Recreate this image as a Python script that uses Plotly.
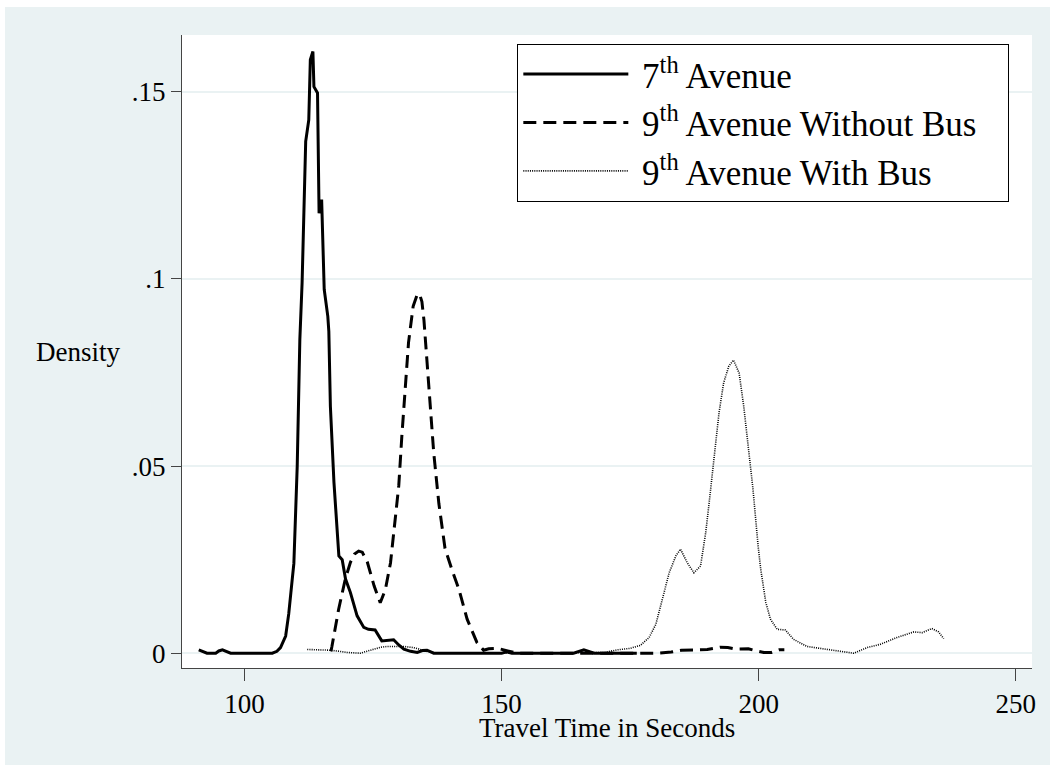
import plotly.graph_objects as go

# ---- data ----
ave7_x = [91.1, 92.0, 92.7, 94.4, 95.0, 95.7, 96.4, 97.3, 100, 103, 105.4, 106.3, 107.0, 108.0,
          108.6, 109.3, 109.6, 110.25, 110.76, 111.2, 111.9, 112.5, 112.8, 113.3, 113.5, 114.2,
          114.5, 115.0, 115.5, 116.2, 116.4, 116.7, 117.4, 118.35, 119.0, 119.65, 120.6, 121.9,
          123.2, 124.1, 125.4, 126.7, 127.8, 129.0, 130.0, 131.0, 132.3, 133.6, 134.6, 135.5,
          136.8, 140, 145, 150, 151, 152, 160, 164, 166, 168, 176.3]
ave7_y = [0.0009, 0.0003, 0.0, 0.0, 0.0006, 0.0009, 0.0005, 0.0, 0.0, 0.0, 0.0, 0.0005, 0.0015, 0.0046,
          0.0105, 0.0200, 0.0240, 0.0500, 0.0838, 0.0990, 0.1368, 0.1425, 0.1586, 0.1608, 0.1514, 0.1497,
          0.1176, 0.1212, 0.0972, 0.0900, 0.0860, 0.0660, 0.0456, 0.0260, 0.0250, 0.0198, 0.0162, 0.0100,
          0.0069, 0.0064, 0.0062, 0.0033, 0.0035, 0.0036, 0.0022, 0.0011, 0.0005, 0.0002, 0.0007, 0.0008,
          0.0, 0.0, 0.0, 0.0, 0.0004, 0.0, 0.0, 0.0, 0.0009, 0.0, 0.0]

nobus_x = [116.8, 117.0, 118.3, 119.6, 120.6, 121.4, 122.2, 122.9, 123.9, 125.2, 126.4, 127.4, 128.4,
           129.2, 130.0, 130.6, 131.3, 131.9, 132.8, 133.5, 134.0, 134.5, 134.9, 135.9, 136.8, 137.8,
           139.0, 140.3, 141.7, 143.3, 145.2, 146.5, 147.5, 149.2, 151.3, 153, 165, 176, 178, 180.5,
           183, 185, 188, 190, 192.5, 194, 195.5, 198, 199.6, 201, 202.5, 204, 205]
nobus_y = [0.0005, 0.0018, 0.0117, 0.0198, 0.0243, 0.0265, 0.0273, 0.0270, 0.0243, 0.0180, 0.0135, 0.0170, 0.0242,
           0.0350, 0.0447, 0.0580, 0.0714, 0.0830, 0.0927, 0.0955, 0.0961, 0.0940, 0.0890, 0.0714, 0.0536, 0.0400,
           0.0280, 0.0225, 0.0171, 0.0091, 0.0029, 0.0008, 0.0012, 0.0013, 0.0005, 0.0, 0.0, 0.0, 0.0, 0.0,
           0.0003, 0.0008, 0.0009, 0.0010, 0.0016, 0.0015, 0.0011, 0.0012, 0.0006, 0.0002, 0.0002, 0.0009, 0.0009]

bus_x = [112.2, 114, 116.7, 118.5, 120, 122.5, 124, 125.1, 126.5, 127.7, 129.5, 131, 132.9, 134.5, 135.5,
         137, 140, 150, 160, 170, 172.5, 175, 177, 178.7, 180, 180.9, 181.9, 182.6, 183.9, 184.8, 186.1,
         187.4, 188.7, 189.7, 190.3, 191.0, 191.6, 192.3, 193.2, 194.2, 195.1, 196.2, 197.1, 197.9, 198.4,
         198.9, 199.4, 199.9, 200.4, 200.7, 201.4, 202.3, 203.6, 205.2, 206.8, 209.4, 212.7, 215.9, 218.5,
         221.1, 223.7, 226.9, 230.2, 231.8, 233.7, 235.0, 236.0]
bus_y = [0.0010, 0.0009, 0.0008, 0.0005, 0.0002, 0.0, 0.0006, 0.0012, 0.0016, 0.0018, 0.0019, 0.0018, 0.0015, 0.0008, 0.0005,
         0.0001, 0.0, 0.0, 0.0, 0.0002, 0.0009, 0.0013, 0.0021, 0.0042, 0.0077, 0.0126, 0.0180, 0.0215, 0.0260, 0.0278, 0.0242,
         0.0215, 0.0233, 0.0322, 0.0393, 0.0482, 0.0571, 0.0643, 0.0723, 0.0767, 0.0783, 0.0749, 0.0660, 0.0571, 0.0500,
         0.0438, 0.0349, 0.0286, 0.0225, 0.0198, 0.0135, 0.0091, 0.0064, 0.0062, 0.0037, 0.0018, 0.0012, 0.0006, 0.0,
         0.0015, 0.0024, 0.0042, 0.0057, 0.0055, 0.0066, 0.0057, 0.0039]

NB = "\u00a0"
series_names = [NB + "7<sup>th</sup> Avenue",
                NB + "9<sup>th</sup> Avenue Without Bus" + NB * 3,
                NB + "9<sup>th</sup> Avenue With Bus"]
x_ticks = [100, 150, 200, 250]
y_ticks = [0, 0.05, 0.1, 0.15]
y_ticktext = ["0", ".05", ".1", ".15"]

FONT = "Liberation Serif, Times New Roman, serif"
BG = "#EAF2F3"

fig = go.Figure()
fig.add_trace(go.Scatter(x=ave7_x, y=ave7_y, mode="lines", name=series_names[0],
                         line=dict(color="black", width=3)))
fig.add_trace(go.Scatter(x=nobus_x, y=nobus_y, mode="lines", name=series_names[1],
                         line=dict(color="black", width=3, dash="13px,7px")))
fig.add_trace(go.Scatter(x=bus_x, y=bus_y, mode="lines", name=series_names[2],
                         line=dict(color="black", width=1.6, dash="1px,1.2px")))

fig.update_layout(
    width=1053, height=772,
    margin=dict(l=182, r=21, t=35, b=104),
    paper_bgcolor="white", plot_bgcolor="white",
    font=dict(family=FONT, size=27, color="black"),
    showlegend=True,
    legend=dict(x=0.3945, y=0.9863, xanchor="left", yanchor="top",
                bgcolor="white", bordercolor="black", borderwidth=1,
                font=dict(family=FONT, size=35, color="black"),
                itemwidth=105, tracegroupgap=0),
    xaxis=dict(range=[87.84, 253.17], tickvals=x_ticks, ticks="outside", ticklen=12,
               tickcolor="#444", tickwidth=1, showline=True, linecolor="#444", linewidth=1,
               showgrid=False, zeroline=False, tickfont=dict(size=27)),
    yaxis=dict(range=[-0.00395, 0.1652], tickvals=y_ticks, ticktext=y_ticktext,
               ticks="outside", ticklen=10, tickcolor="#444", tickwidth=1,
               showline=True, linecolor="#444", linewidth=1,
               showgrid=True, gridcolor=BG, gridwidth=2, zeroline=False,
               tickfont=dict(size=27)),
    shapes=[
        dict(type="rect", xref="paper", yref="paper", x0=-0.2082, x1=1.0212, y0=-0.1532, y1=1.0442,
             fillcolor=BG, line=dict(width=0), layer="below"),
        dict(type="rect", xref="paper", yref="paper", x0=0, x1=1, y0=0, y1=1,
             fillcolor="white", line=dict(width=0), layer="below"),
    ],
    annotations=[
        dict(text="Travel Time in Seconds", xref="paper", yref="paper", x=0.5, y=-0.0945,
             xanchor="center", yanchor="middle", showarrow=False, font=dict(size=27)),
        dict(text="Density", xref="paper", yref="paper", x=-0.122, y=0.5,
             xanchor="center", yanchor="middle", showarrow=False, font=dict(size=27)),
    ],
)

fig.write_html("out.html", config={"displayModeBar": False},
               post_script="document.body.style.margin='0';document.body.style.padding='0';")
